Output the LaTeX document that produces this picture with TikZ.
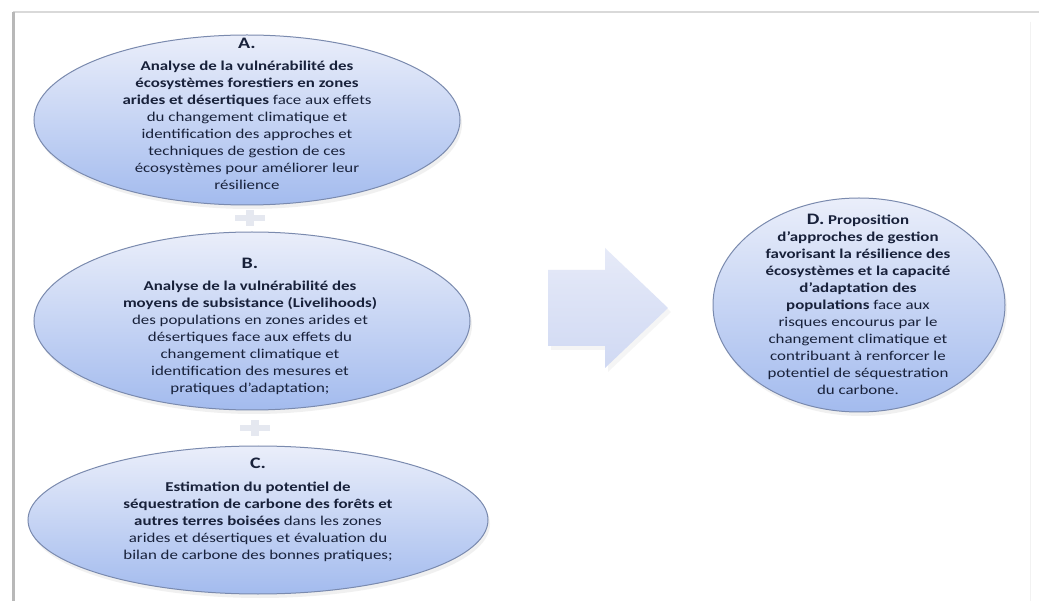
\documentclass[tikz,border=0pt]{standalone}
\usepackage{fontspec}
\setmainfont{Carlito}[FakeStretch=1.25]
\usetikzlibrary{shapes.geometric}
\definecolor{inktext}{HTML}{18213A}
\definecolor{rimblue}{HTML}{7A8AAE}
\definecolor{topblue}{HTML}{EAEEFA}
\definecolor{lowblue}{HTML}{A3BBEE}
\definecolor{arrowtop}{HTML}{E6EAF8}
\definecolor{arrowlow}{HTML}{D0D9F3}
\definecolor{plusfill}{HTML}{E5E8F0}
\tikzset{
  bubble/.style={shape=ellipse, inner sep=0pt, draw=rimblue, line width=1pt,
                 top color=topblue, bottom color=lowblue},
  bubbleshade/.style={shape=ellipse, inner sep=0pt, fill=black!35, opacity=0.16},
  bubbletext/.style={align=center, text=inktext, inner sep=0pt,
                     font=\fontsize{13.5}{17}\selectfont},
  plusmark/.style={fill=plusfill, draw=none},
  bigarrow/.style={draw=none, top color=arrowtop, bottom color=arrowlow},
  arrowshade/.style={fill=black!30, opacity=0.12, draw=none}
}
\newcommand{\heading}[1]{{\fontsize{16}{18}\selectfont\bfseries #1}}
% outline of the block arrow, relative to its tail point
\newcommand{\blockarrowpath}{++(0,-38) -- ++(57,0) -- ++(0,-22) -- ++(63,60)
  -- ++(-63,60) -- ++(0,-22) -- ++(-57,0) -- cycle}
\begin{document}
\begin{tikzpicture}[x=1pt,y=-1pt]
\useasboundingbox (0,0) rectangle (1039,601);
\fill[white] (0,0) rectangle (1039,601);

% frame lines
\draw[line width=2pt, draw=black!15] (13,12) -- (1039,12);
\draw[line width=3pt, draw=black!28] (13,12) -- (13,601);
\draw[line width=1pt, draw=black!5] (1030,22) -- (1030,601);

% soft shadows under the bubbles
\node[bubbleshade, minimum width=426pt, minimum height=170pt] at (249,124) {};
\node[bubbleshade, minimum width=436pt, minimum height=178pt] at (254,325) {};
\node[bubbleshade, minimum width=460pt, minimum height=148pt] at (260,524) {};
\node[bubbleshade, minimum width=292pt, minimum height=214pt] at (861,309) {};

% bubbles
\node[bubble, minimum width=426pt, minimum height=170pt] (A) at (247,120) {};
\node[bubble, minimum width=436pt, minimum height=178pt] (B) at (252,321) {};
\node[bubble, minimum width=460pt, minimum height=148pt] (C) at (258,520) {};
\node[bubble, minimum width=292pt, minimum height=214pt] (D) at (859,305) {};

% texts
\node[bubbletext] (At) at (247,114) {\heading{A.}\\[5pt]
\textbf{Analyse de la vulnérabilité des}\\
\textbf{écosystèmes forestiers en zones}\\
\textbf{arides et désertiques} face aux effets\\
du changement climatique et\\
identification des approches et\\
techniques de gestion de ces\\
écosystèmes pour améliorer leur\\
résilience};

\node[bubbletext] (Bt) at (250,326) {\heading{B.}\\[5pt]
\textbf{Analyse de la vulnérabilité des}\\
\textbf{moyens de subsistance (Livelihoods)}\\
des populations en zones arides et\\
désertiques face aux effets du\\
changement climatique et\\
identification des mesures et\\
pratiques d’adaptation;};

\node[bubbletext] (Ct) at (258,510) {\heading{C.}\\[6pt]
\textbf{Estimation du potentiel de}\\
\textbf{séquestration de carbone des forêts et}\\
\textbf{autres terres boisées} dans les zones\\
arides et désertiques et évaluation du\\
bilan de carbone des bonnes pratiques;};

\node[bubbletext] (Dt) at (858,304) {\heading{D.} \textbf{Proposition}\\
\textbf{d’approches de gestion}\\
\textbf{favorisant la résilience des}\\
\textbf{écosystèmes et la capacité}\\
\textbf{d’adaptation des}\\
\textbf{populations} face aux\\
risques encourus par le\\
changement climatique et\\
contribuant à renforcer le\\
potentiel de séquestration\\
du carbone.};

% plus connectors between the stacked bubbles
\path (A.south) -- (B.north) coordinate[pos=0.5] (pab);
\path (B.south) -- (C.north) coordinate[pos=0.5] (pbc);
\foreach \p in {pab,pbc}{
  \fill[plusmark] ([shift={(-15,-3)}]\p) rectangle ([shift={(15,3)}]\p);
  \fill[plusmark] ([shift={(-4,-8)}]\p) rectangle ([shift={(4,8)}]\p);
}

% big block arrow leading to the proposal bubble
\coordinate (tail) at (548,308);
\fill[arrowshade] ([shift={(3,4)}]tail) \blockarrowpath;
\path[bigarrow] (tail) \blockarrowpath;
\end{tikzpicture}
\end{document}
